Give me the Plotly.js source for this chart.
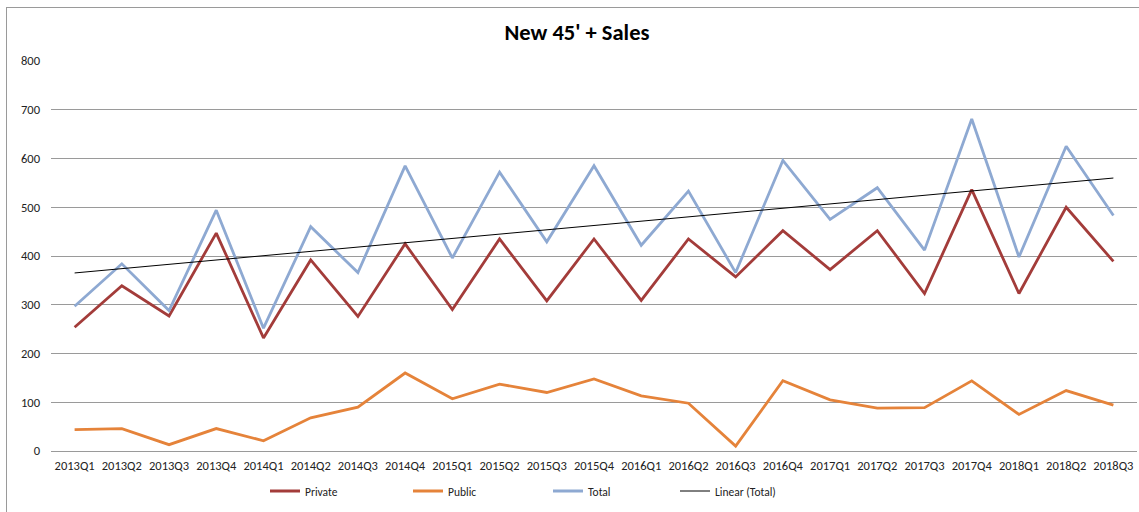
<!DOCTYPE html>
<html>
<head>
<meta charset="utf-8">
<script src="https://cdn.plot.ly/plotly-3.0.1.min.js"></script>
<style>
  html, body { margin: 0; padding: 0; background: #fff; overflow: hidden; }
  #wrap { position: relative; width: 1139px; height: 512px; overflow: hidden; }
  #frame { position: absolute; left: 6px; top: 7px; width: 1200px; height: 600px; border: 1px solid #9a9a9a; box-sizing: border-box; pointer-events: none; }
  #chart { position: absolute; left: 0; top: 0; width: 1139px; height: 512px; }
</style>
</head>
<body>
<div id="wrap">
  <div id="chart"></div>
  <div id="frame"></div>
</div>
<script>
const categories = ["2013Q1","2013Q2","2013Q3","2013Q4","2014Q1","2014Q2","2014Q3","2014Q4",
  "2015Q1","2015Q2","2015Q3","2015Q4","2016Q1","2016Q2","2016Q3","2016Q4",
  "2017Q1","2017Q2","2017Q3","2017Q4","2018Q1","2018Q2","2018Q3"];
const privateSales = [254,339,277,447,232,392,276,425,290,435,308,435,309,435,357,452,372,452,323,536,323,500,389];
const publicSales  = [44,46,13,46,21,68,90,160,107,137,120,148,113,98,10,144,105,88,89,144,75,124,94];
const totalSales   = [297,384,288,494,252,460,366,585,396,572,429,585,422,533,366,596,475,540,412,681,398,625,483];

// Linear trendline (least squares) of Total, as in the spreadsheet's "Linear (Total)"
const n = totalSales.length;
const xs = totalSales.map((_, i) => i + 1);
const mx = xs.reduce((a, b) => a + b, 0) / n;
const my = totalSales.reduce((a, b) => a + b, 0) / n;
let sxy = 0, sxx = 0;
for (let i = 0; i < n; i++) { sxy += (xs[i] - mx) * (totalSales[i] - my); sxx += (xs[i] - mx) ** 2; }
const slope = sxy / sxx;
const intercept = my - slope * mx;
const trend = xs.map(x => intercept + slope * x);

const font = "Carlito, Calibri, 'Liberation Sans', Arial, sans-serif";

const traces = [
  { x: categories, y: privateSales, name: "Private", type: "scatter", mode: "lines",
    line: { color: "#A33C3A", width: 2.8 }, legend: "legend" },
  { x: categories, y: publicSales, name: "Public", type: "scatter", mode: "lines",
    line: { color: "#E5833A", width: 2.8 }, legend: "legend2" },
  { x: categories, y: totalSales, name: "Total", type: "scatter", mode: "lines",
    line: { color: "#8EA9D2", width: 2.8 }, legend: "legend3" },
  { x: categories, y: trend, name: "Linear (Total)", type: "scatter", mode: "lines",
    line: { color: "#000000", width: 1 }, legend: "legend4" }
];

function leg(px) {
  return { orientation: "h", xref: "container", x: px / 1139, xanchor: "left",
    yref: "container", y: 1 - 491 / 512, yanchor: "middle", itemwidth: 30,
    font: { family: font, size: 11.5, color: "#222" }, bgcolor: "rgba(0,0,0,0)" };
}

const layout = {
  width: 1139, height: 512,
  paper_bgcolor: "rgba(0,0,0,0)", plot_bgcolor: "rgba(0,0,0,0)",
  margin: { l: 51, r: 2, t: 61, b: 61 },
  font: { family: font, size: 12.5, color: "#222" },
  title: { text: "<b>New 45' + Sales</b>", font: { family: font, size: 22.5, color: "#000" },
    xref: "container", x: 577 / 1139, xanchor: "center", yref: "container", y: 1 - 32 / 512, yanchor: "middle" },
  xaxis: { type: "category", range: [-0.5, 22.5], showgrid: false, zeroline: false, showline: false,
    ticks: "", tickangle: 0, ticklabelstandoff: 5, tickfont: { family: font, size: 12.5, color: "#222" }, fixedrange: true },
  yaxis: { range: [0, 800], dtick: 100, showgrid: true, gridcolor: "#9a9a9a", gridwidth: 1,
    zeroline: true, zerolinecolor: "#9a9a9a", zerolinewidth: 1, showline: false, ticks: "",
    ticklabelstandoff: 10, tickfont: { family: font, size: 12.5, color: "#222" }, fixedrange: true },
  showlegend: true,
  legend: leg(265),
  legend2: leg(408),
  legend3: leg(548),
  legend4: leg(675)
};

Plotly.newPlot("chart", traces, layout, { staticPlot: true, displayModeBar: false });
</script>
</body>
</html>
